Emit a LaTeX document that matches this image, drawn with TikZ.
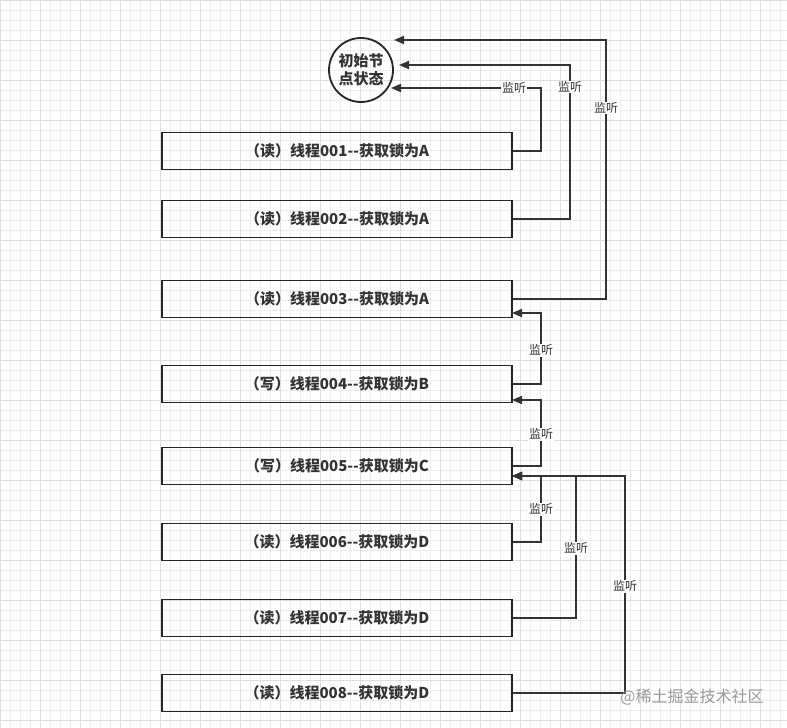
\documentclass[tikz,border=0pt]{standalone}
\usepackage{fontspec}
\setmainfont{Noto Sans CJK SC}
\usetikzlibrary{arrows.meta}
\begin{document}
\begin{tikzpicture}[x=1pt,y=-1pt,
  box/.style={draw=black!85,line width=1.8pt,minimum width=350pt,minimum height=37pt,inner sep=0pt,font=\bfseries\fontsize{15}{17}\selectfont,text=black!80},
  wire/.style={draw=black!80,line width=1.8pt},
  arr/.style={wire,-{Triangle[length=10pt,width=8pt]}},
  lbl/.style={fill=white,inner sep=1pt,font=\fontsize{12}{13}\selectfont,text=black!80}]
\useasboundingbox (0,0) rectangle (787,728);
\fill[white] (0,0) rectangle (787,728);
\foreach \i in {0,10,...,780} {\draw[black!7,line width=0.5pt] (\i,0) -- (\i,728);}
\foreach \i in {0,10,...,720} {\draw[black!7,line width=0.5pt] (0,\i) -- (787,\i);}
\foreach \i in {0,40,...,780} {\draw[black!13,line width=0.6pt] (\i,0) -- (\i,728);}
\foreach \i in {0,40,...,720} {\draw[black!13,line width=0.6pt] (0,\i) -- (787,\i);}
\node[circle,draw=black!85,line width=1.8pt,minimum size=64pt,inner sep=0pt,align=center,font=\bfseries\fontsize{15}{18}\selectfont,text=black!80] (c) at (361,70) {初始节\\点状态};
\node[box] (b1) at (337,151) {（读）线程001-{}-获取锁为A};
\node[box] (b2) at (337,219) {（读）线程002-{}-获取锁为A};
\node[box] (b3) at (337,299) {（读）线程003-{}-获取锁为A};
\node[box] (b4) at (337,384) {（写）线程004-{}-获取锁为B};
\node[box] (b5) at (337,466) {（写）线程005-{}-获取锁为C};
\node[box] (b6) at (337,542) {（读）线程006-{}-获取锁为D};
\node[box] (b7) at (337,618) {（读）线程007-{}-获取锁为D};
\node[box] (b8) at (337,693) {（读）线程008-{}-获取锁为D};
\coordinate (t1) at (391,88);
\coordinate (t2) at (399,65);
\coordinate (t3) at (394,40);
\coordinate (t4) at (512,313);
\coordinate (t5) at (512,400);
\coordinate (t6) at (512,476);
\draw[arr] (b1.east) -- (541,151) -- (541,88) -- (t1);
\node[lbl] at (514,88) {监听};
\draw[arr] (b2.east) -- (570,219) -- (570,65) -- (t2);
\node[lbl] at (570,87) {监听};
\draw[arr] (b3.east) -- (606,299) -- (606,40) -- (t3);
\node[lbl] at (606,108) {监听};
\draw[arr] (b4.east) -- (541,384) -- (541,313) -- (t4);
\node[lbl] at (541,350) {监听};
\draw[arr] (b5.east) -- (541,466) -- (541,400) -- (t5);
\node[lbl] at (541,434) {监听};
\draw[arr] (b6.east) -- (541,542) -- (541,476) -- (t6);
\node[lbl] at (541,509) {监听};
\draw[arr] (b7.east) -- (576,618) -- (576,476) -- (t6);
\node[lbl] at (576,548) {监听};
\draw[arr] (b8.east) -- (625,693) -- (625,476) -- (t6);
\node[lbl] at (625,586) {监听};
\node[font=\fontsize{16}{17}\selectfont,text=black!40] (wm) at (692,697) {@稀土掘金技术社区};
\end{tikzpicture}
\end{document}
